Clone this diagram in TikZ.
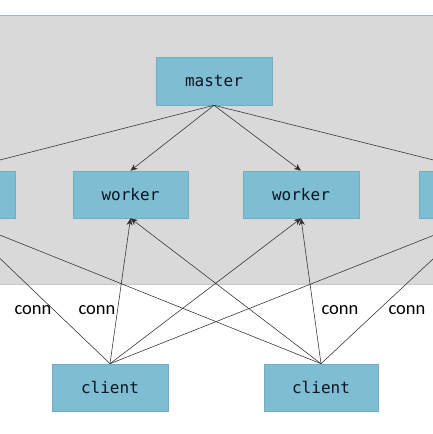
\documentclass[tikz,border=0pt]{standalone}
\usepackage{fontspec}
\setmainfont{Carlito}
\newfontfamily\boxmono{DejaVu Sans Mono}
\usetikzlibrary{arrows.meta}
\definecolor{bgray}{HTML}{D9D9D9}
\definecolor{bline}{HTML}{A8B3BC}
\definecolor{boxfill}{HTML}{7FBDD3}
\definecolor{boxedge}{HTML}{72ADC2}
\definecolor{boxtext}{HTML}{081522}
\definecolor{edgecol}{HTML}{2E2E2E}
\tikzset{
  procbox/.style={draw=boxedge, line width=0.6pt, fill=boxfill, inner sep=0pt,
    minimum width=115pt, minimum height=47pt, text=boxtext,
    font=\boxmono\fontsize{16}{18}\selectfont},
  connlabel/.style={inner sep=0pt, text=black, font=\fontsize{18.5}{20}\selectfont},
  link/.style={draw=edgecol, line width=0.55pt},
  arrowlink/.style={link, -{Stealth[length=7pt,width=6pt]}}
}
\begin{document}
\begin{tikzpicture}[x=1pt,y=-1pt]
\useasboundingbox (0,0) rectangle (433,434);
\clip (0,0) rectangle (433,434);
\fill[white] (0,0) rectangle (433,434);
\fill[bgray] (0,15) rectangle (433,284);
\draw[bline, line width=0.8pt] (0,15) -- (433,15);
\draw[bline!70, line width=0.4pt] (0,284) -- (433,284);

\node[procbox, minimum width=116pt, minimum height=48pt] (master) at (214,81) {master};
\node[procbox] (w0) at (-42,194.5) {};
\node[procbox] (w1) at (130.5,194.5) {worker};
\node[procbox, minimum width=116pt] (w2) at (301,194.5) {worker};
\node[procbox] (w3) at (476.5,194.5) {};
\node[procbox, minimum width=116pt] (c1) at (110,387.5) {client};
\node[procbox, minimum width=114pt] (c2) at (321,387.5) {client};

\foreach \w in {w0,w1,w2,w3} {
  \draw[arrowlink] (master.south) -- (\w.north);
  \draw[arrowlink] (c1.north) -- (\w.south);
  \draw[arrowlink] (c2.north) -- (\w.south);
}

\node[connlabel] (l1) at (33,310) {conn};
\node[connlabel] (l2) at (97,310) {conn};
\node[connlabel] (l3) at (340,310) {conn};
\node[connlabel] (l4) at (407,310) {conn};
\end{tikzpicture}
\end{document}
